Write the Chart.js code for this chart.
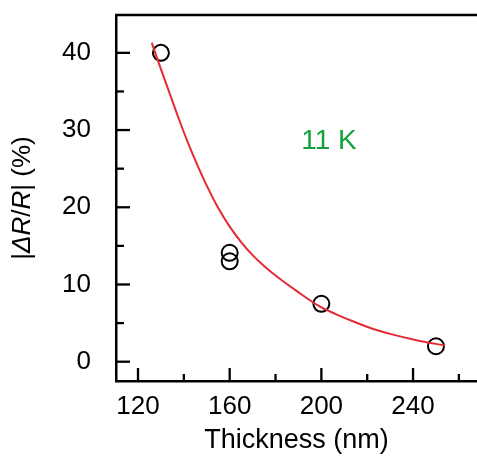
<!DOCTYPE html>
<html>
<head>
<meta charset="utf-8">
<script src="https://cdn.jsdelivr.net/npm/chart.js@4"></script>
<style>
  html, body { margin: 0; padding: 0; background: #fff; }
  #wrap { width: 477px; height: 457px; position: relative; }
</style>
</head>
<body>
<div id="wrap"><canvas id="chart"></canvas></div>
<script>
// measured points
const thickness = [130, 160, 160, 200, 250];
const deltaR = [40, 14.1, 13.0, 7.5, 2.0];

// fitted curve
const fitX = [126, 130, 134, 138, 142, 146, 150, 155, 160, 165, 170, 175, 182, 189, 199, 206, 214, 222, 230, 242, 254];
const fitY = [41.3, 37.9, 34.6, 31.3, 28.2, 25.4, 22.8, 19.9, 17.5, 15.5, 13.8, 12.4, 10.7, 9.2, 7.2, 6.2, 5.2, 4.3, 3.6, 2.75, 2.1];

const xTicks = [120, 160, 200, 240];
const xMinor = [140, 180, 220, 260];
const yTicks = [0, 10, 20, 30, 40];
const yMinor = [5, 15, 25, 35];

const FONT = "'Liberation Sans', Arial, Helvetica, sans-serif";

// ticks pointing inward + top frame line + labels with italics
const framePlugin = {
  id: "frame",
  afterDraw(chart) {
    const ctx = chart.ctx;
    const { left, right, top, bottom } = chart.chartArea;
    const xs = chart.scales.x, ys = chart.scales.y;
    ctx.save();
    ctx.strokeStyle = "#000";
    ctx.lineWidth = 2.3;
    ctx.beginPath();
    ctx.moveTo(left - 1, top);
    ctx.lineTo(right, top);
    ctx.stroke();

    const tick = (x1, y1, x2, y2) => {
      ctx.beginPath();
      ctx.moveTo(x1, y1);
      ctx.lineTo(x2, y2);
      ctx.stroke();
    };
    yTicks.forEach(v => { const p = ys.getPixelForValue(v); tick(left, p, left + 14, p); });
    yMinor.forEach(v => { const p = ys.getPixelForValue(v); tick(left, p, left + 8, p); });
    xTicks.forEach(v => { const p = xs.getPixelForValue(v); tick(p, bottom, p, bottom - 13); });
    xMinor.forEach(v => { const p = xs.getPixelForValue(v); tick(p, bottom, p, bottom - 7); });

    // y title |ΔR/R| (%) with italic parts
    const parts = [["|", false], ["\u0394R", true], ["/", false], ["R", true], ["| (%)", false]];
    const size = 26;
    let total = 0;
    parts.forEach(([t, it]) => {
      ctx.font = (it ? "italic " : "") + size + "px " + FONT;
      total += ctx.measureText(t).width;
    });
    ctx.translate(23, (top + bottom) / 2);
    ctx.rotate(-Math.PI / 2);
    ctx.fillStyle = "#000";
    ctx.textBaseline = "middle";
    let x = -total / 2;
    parts.forEach(([t, it]) => {
      ctx.font = (it ? "italic " : "") + size + "px " + FONT;
      ctx.fillText(t, x, 0);
      x += ctx.measureText(t).width;
    });
    ctx.restore();

    // temperature label
    ctx.save();
    ctx.font = "28px " + FONT;
    ctx.fillStyle = "#17a03e";
    ctx.textAlign = "center";
    ctx.textBaseline = "middle";
    ctx.fillText("11 K", xs.getPixelForValue(203.3), ys.getPixelForValue(28.5));
    ctx.restore();
  }
};

new Chart(document.getElementById("chart"), {
  type: "scatter",
  data: {
    datasets: [
      {
        data: fitX.map((x, i) => ({ x: x, y: fitY[i] })),
        showLine: true,
        borderColor: "#e42a32",
        borderWidth: 2,
        pointRadius: 0,
        cubicInterpolationMode: "monotone",
        fill: false
      },
      {
        data: thickness.map((x, i) => ({ x: x, y: deltaR[i] })),
        pointStyle: "circle",
        pointRadius: 8,
        pointBorderWidth: 2,
        pointBorderColor: "#000",
        pointBackgroundColor: "rgba(0,0,0,0)"
      }
    ]
  },
  options: {
    responsive: true,
    maintainAspectRatio: false,
    animation: false,
    layout: { autoPadding: false, padding: { top: 15, right: 0, left: 0, bottom: 0 } },
    plugins: { legend: { display: false }, tooltip: { enabled: false } },
    scales: {
      x: {
        type: "linear",
        min: 110.4,
        max: 267.9,
        afterFit: s => { s.height = 76; s.paddingLeft = 0; s.paddingRight = 0; },
        afterBuildTicks: s => { s.ticks = xTicks.map(v => ({ value: v })); },
        grid: { display: false, drawTicks: false },
        border: { display: true, color: "#000", width: 2.5 },
        ticks: { color: "#000", font: { family: FONT, size: 26 }, padding: 10, maxRotation: 0 },
        title: { display: true, text: "Thickness (nm)", color: "#000", font: { family: FONT, size: 27 }, padding: { top: 0, bottom: 0 } }
      },
      y: {
        type: "linear",
        min: -2.5,
        max: 44.9,
        afterFit: s => { s.width = 116; s.paddingTop = 0; s.paddingBottom = 0; },
        afterBuildTicks: s => { s.ticks = yTicks.map(v => ({ value: v })); },
        grid: { display: false, drawTicks: false },
        border: { display: true, color: "#000", width: 2.5 },
        ticks: { color: "#000", font: { family: FONT, size: 26 }, padding: 25 }
      }
    }
  },
  plugins: [framePlugin]
});
</script>
</body>
</html>
